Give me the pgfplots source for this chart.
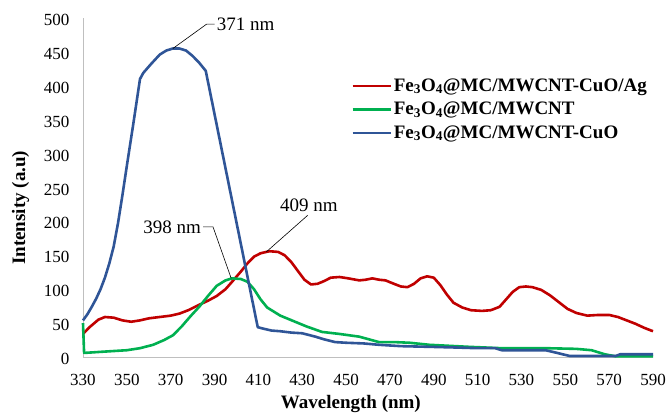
\documentclass[border=0pt]{standalone}
\usepackage{pgfplots}
\pgfplotsset{compat=1.18}
\usepackage{fontspec}
\setmainfont{Liberation Serif}
\definecolor{cred}{RGB}{192,0,0}
\definecolor{cgreen}{RGB}{0,176,80}
\definecolor{cblue}{RGB}{47,85,151}
\begin{document}
\begin{tikzpicture}
\useasboundingbox (-83pt,-55pt) rectangle (583pt,357pt);
\begin{axis}[
  scale only axis, width=570pt, height=339pt,
  xmin=330, xmax=590, ymin=0, ymax=500,
  xtick={330,350,...,590}, ytick={0,50,...,500},
  axis x line=bottom, axis y line=left,
  axis line style={-, draw=black!25, line width=0.8pt},
  major tick length=0pt,
  /pgf/number format/assume math mode=true,
  /pgf/number format/1000 sep={},
  tick label style={font=\fontsize{17}{20}\selectfont},
  xticklabel style={anchor=base, yshift=-28pt},
  yticklabel style={xshift=-10pt, yshift=-2pt},
  xlabel={\textbf{Wavelength (nm)}},
  ylabel={\textbf{Intensity (a.u)}},
  xlabel style={at={(rel axis cs:0.47,0)}, anchor=base, yshift=-51pt},
  ylabel style={at={([xshift=-62.5pt]rel axis cs:0,0.44)}, anchor=center},
  label style={font=\fontsize{19}{22}\selectfont},
  clip=false,
  legend style={draw=none, fill=none, at={(0.465,0.838)}, anchor=north west,
    font=\fontsize{19}{23}\selectfont\bfseries, row sep=1.5pt,
    nodes={text height=14pt, text depth=4pt, inner ysep=2pt}},
  legend cell align=left,
  legend image code/.code={\draw[#1] (0pt,0pt) -- (38pt,0pt);},
  every axis plot/.append style={line width=2.6pt, line join=round, no markers},
]
\addplot[cred] coordinates {
(330,34) (333,44) (337,55) (340,59) (344,58) (348,54) (352,52) (356,54) (360,57) (365,59)
(370,61) (374,64) (378,69) (383,77) (387,83) (391,90) (395,100) (398,111) (402,126) (405,138)
(408,148) (411,153) (415,156) (419,155) (422,150) (425,140) (428,127) (431,114) (434,107) (437,108)
(440,112) (443,117) (447,118) (451,116) (456,113) (459,114) (462,116) (465,114) (468,113) (471,109)
(475,104) (478,103) (481,108) (484,116) (487,119) (490,117) (493,106) (496,92) (499,80) (503,73)
(507,69) (512,68) (516,69) (520,74) (523,85) (526,96) (529,103) (532,104) (535,103) (539,99)
(543,91) (547,81) (551,71) (555,65) (560,61) (565,62) (570,62) (574,59) (578,54) (582,49)
(586,43) (590,38)
};
\addlegendentry{Fe\textsubscript{3}O\textsubscript{4}@MC/MWCNT-CuO/Ag}
\addplot[cgreen] coordinates {
(330,50) (330.5,6) (340,8) (350,10) (356,13) (362,18) (367,25) (371,32) (375,45) (379,60)
(383,74) (387,90) (391,105) (395,113) (398,116) (402,115) (405,111) (408,100) (411,85) (414,73)
(418,65) (420,61) (426,53) (432,45) (439,37) (447,34) (456,30) (465,22) (472,22) (479,21)
(488,18) (506,15) (521,13) (541,13) (555,12) (562,10) (568,4) (573,1) (590,1)
};
\addlegendentry{Fe\textsubscript{3}O\textsubscript{4}@MC/MWCNT}
\addplot[cblue] coordinates {
(330,54) (332,63) (334,74) (336,86) (338,100) (340,117) (342,138) (344,163) (346,198) (348,239)
(350,282) (353,345) (356,410) (357.5,419)
(361,432) (365,446) (368,452) (371,455) (374,455) (377,452) (380,444) (383,434) (386,422) (409.7,44)
(412,42) (416,39) (420,38) (425,36) (430,35) (436,30) (440,26) (445,22) (450,21) (458,20)
(465,18) (475,16) (488,15) (500,14) (510,13) (518,13) (521,10) (541,10) (545,7) (552,1.5)
(573,1.5) (575,4) (590,4)
};
\addlegendentry{Fe\textsubscript{3}O\textsubscript{4}@MC/MWCNT-CuO}
\draw[black, line width=0.6pt] (axis cs:371,455) -- (axis cs:386.4,491) -- (axis cs:390,491);
\node[anchor=west, font=\fontsize{19}{22}\selectfont, inner sep=1pt] at (axis cs:390.5,491) {371 nm};
\draw[black, line width=0.6pt] (axis cs:413.6,155) -- (axis cs:432.5,209);
\node[anchor=south, font=\fontsize{19}{22}\selectfont, inner sep=1pt] at (axis cs:433,212) {409 nm};
\draw[black, line width=0.6pt] (axis cs:397.6,116) -- (axis cs:389.3,192) -- (axis cs:384.8,192);
\node[anchor=east, font=\fontsize{19}{22}\selectfont, inner sep=1pt] at (axis cs:384.3,192) {398 nm};
\end{axis}
\end{tikzpicture}
\end{document}
